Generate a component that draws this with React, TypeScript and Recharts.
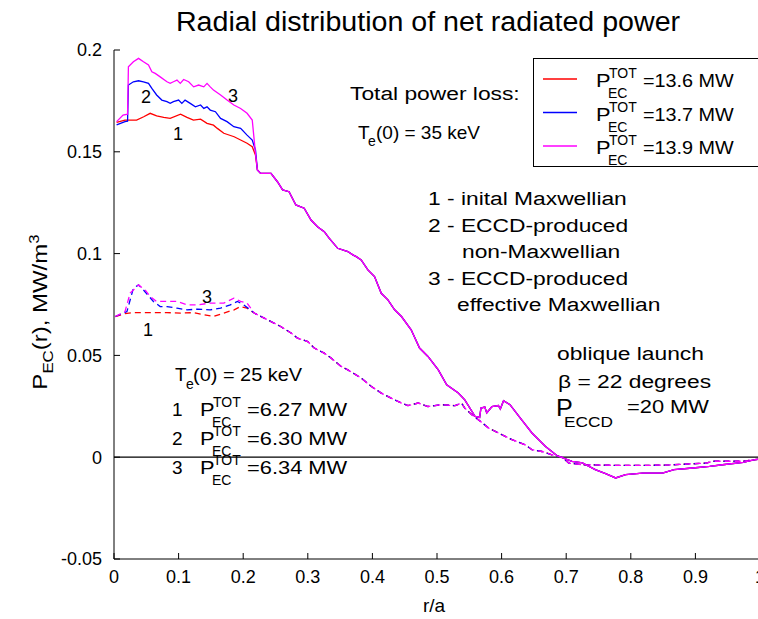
import { LineChart, Line, XAxis, YAxis, ReferenceLine, Legend } from 'recharts'

const RED = '#ff0000'
const BLUE = '#0000ff'
const MAGENTA = '#ff00ff'
const FONT = '"Liberation Sans", Arial, Helvetica, sans-serif'

const xTicks = [0, 0.1, 0.2, 0.3, 0.4, 0.5, 0.6, 0.7, 0.8, 0.9, 1]
const yTicks = [-0.05, 0, 0.05, 0.1, 0.15, 0.2]

// Te(0) = 35 keV, central part (r/a < 0.22) for each distribution
const hotMaxwX = [0.004, 0.017, 0.035, 0.046, 0.056, 0.066, 0.077, 0.087, 0.103, 0.113, 0.123, 0.134, 0.144, 0.154, 0.16, 0.17, 0.186, 0.196, 0.206, 0.214, 0.219]
const hotMaxwY = [0.1645, 0.1656, 0.1656, 0.1672, 0.1689, 0.1676, 0.1669, 0.1664, 0.1685, 0.1669, 0.1656, 0.166, 0.164, 0.1631, 0.1615, 0.1591, 0.1574, 0.1558, 0.1542, 0.1525, 0.1484]

const hotNonMaxwX = [0.004, 0.017, 0.021, 0.0223, 0.03, 0.038, 0.0456, 0.0534, 0.0586, 0.066, 0.074, 0.082, 0.087, 0.092, 0.1, 0.105, 0.11, 0.118, 0.126, 0.134, 0.139, 0.144, 0.149, 0.157, 0.165, 0.175, 0.1855, 0.196, 0.206, 0.214, 0.219]
const hotNonMaxwY = [0.1632, 0.1648, 0.165, 0.1828, 0.1844, 0.1849, 0.1844, 0.1836, 0.1811, 0.1779, 0.1754, 0.1746, 0.1738, 0.1746, 0.1754, 0.1738, 0.1754, 0.1738, 0.1721, 0.173, 0.1713, 0.1721, 0.1705, 0.1697, 0.1664, 0.1648, 0.1623, 0.1615, 0.1582, 0.1558, 0.1509]

const hotEffX = [0.004, 0.014, 0.021, 0.0223, 0.03, 0.038, 0.0456, 0.0534, 0.0586, 0.0638, 0.0715, 0.082, 0.087, 0.092, 0.0975, 0.1026, 0.1078, 0.1156, 0.1233, 0.131, 0.139, 0.144, 0.149, 0.154, 0.165, 0.175, 0.1855, 0.196, 0.206, 0.214, 0.219]
const hotEffY = [0.1648, 0.168, 0.1685, 0.1918, 0.1942, 0.1959, 0.1942, 0.1926, 0.1893, 0.1885, 0.1868, 0.1844, 0.1836, 0.1844, 0.1852, 0.1836, 0.1855, 0.1844, 0.1819, 0.1828, 0.1819, 0.1836, 0.1819, 0.1803, 0.1779, 0.1754, 0.173, 0.1713, 0.1689, 0.1656, 0.1493]

// Te(0) = 35 keV, outer part shared by all three
const hotTailX = [0.222, 0.227, 0.243, 0.253, 0.261, 0.271, 0.2815, 0.2944, 0.305, 0.315, 0.3255, 0.333, 0.3463, 0.362, 0.3697, 0.375, 0.3826, 0.393, 0.4033, 0.4137, 0.424, 0.4344, 0.445, 0.46, 0.473, 0.486, 0.502, 0.515, 0.533, 0.543, 0.559, 0.566, 0.568, 0.574, 0.577, 0.585, 0.595, 0.598, 0.603, 0.613, 0.629, 0.647, 0.668, 0.686, 0.709, 0.725, 0.745, 0.761, 0.7765, 0.792, 0.818, 0.849, 0.867, 0.896, 0.922, 0.942, 0.974, 0.992, 1.0]
const hotTailY = [0.1411, 0.1394, 0.1394, 0.1353, 0.1313, 0.1304, 0.1239, 0.1223, 0.1165, 0.1132, 0.1108, 0.1076, 0.1026, 0.101, 0.0994, 0.0985, 0.0969, 0.092, 0.0887, 0.0805, 0.0773, 0.0724, 0.0691, 0.0626, 0.0536, 0.0495, 0.0429, 0.0356, 0.0315, 0.0282, 0.02, 0.0195, 0.0241, 0.0246, 0.0217, 0.0249, 0.0254, 0.0237, 0.0277, 0.0258, 0.0192, 0.0119, 0.0053, 0.0007, -0.002, -0.0028, -0.0061, -0.0081, -0.0102, -0.0086, -0.0078, -0.0078, -0.0061, -0.0053, -0.0045, -0.0037, -0.0025, -0.0012, -0.001]

// Te(0) = 25 keV, central part
const coldMaxwX = [0.002, 0.017, 0.03, 0.056, 0.082, 0.103, 0.123, 0.139, 0.154, 0.17, 0.186, 0.196, 0.206, 0.217]
const coldMaxwY = [0.0691, 0.0705, 0.071, 0.071, 0.071, 0.0708, 0.071, 0.07, 0.0691, 0.0708, 0.0724, 0.074, 0.0732, 0.0708]

const coldNonMaxwX = [0.002, 0.02, 0.03, 0.038, 0.046, 0.061, 0.0715, 0.082, 0.0975, 0.113, 0.129, 0.149, 0.165, 0.18, 0.191, 0.201, 0.217]
const coldNonMaxwY = [0.0691, 0.0715, 0.083, 0.0846, 0.082, 0.0765, 0.074, 0.074, 0.0732, 0.0724, 0.0727, 0.0724, 0.0732, 0.0748, 0.0765, 0.0748, 0.0708]

const coldEffX = [0.002, 0.017, 0.025, 0.038, 0.048, 0.056, 0.066, 0.082, 0.0975, 0.113, 0.129, 0.149, 0.17, 0.1855, 0.196, 0.206, 0.217]
const coldEffY = [0.0691, 0.0715, 0.0806, 0.0846, 0.0822, 0.0789, 0.0765, 0.0765, 0.0765, 0.0748, 0.0748, 0.0757, 0.0757, 0.0781, 0.0765, 0.0757, 0.0708]

// Te(0) = 25 keV, outer part shared by all three
const coldTailX = [0.2375, 0.258, 0.274, 0.284, 0.3, 0.31, 0.3255, 0.336, 0.3515, 0.362, 0.3826, 0.398, 0.4137, 0.429, 0.445, 0.455, 0.471, 0.486, 0.507, 0.528, 0.538, 0.543, 0.554, 0.564, 0.58, 0.595, 0.616, 0.6366, 0.647, 0.6625, 0.678, 0.694, 0.704, 0.725, 0.7765, 0.828, 0.86, 0.917, 0.927, 0.974, 0.992, 1.0]
const coldTailY = [0.0675, 0.0642, 0.061, 0.0585, 0.0568, 0.0536, 0.0511, 0.0487, 0.0446, 0.0429, 0.0389, 0.0348, 0.0315, 0.029, 0.0266, 0.0253, 0.0266, 0.0249, 0.0258, 0.0253, 0.0266, 0.0241, 0.0209, 0.0184, 0.0143, 0.0119, 0.0086, 0.0061, 0.0037, 0.0028, 0.0012, 0.0, -0.0029, -0.0037, -0.004, -0.004, -0.0038, -0.0029, -0.002, -0.002, -0.0012, -0.001]

const hotTotals = ['13.6', '13.7', '13.9']
const coldTotals = ['6.27', '6.30', '6.34']

const series = (xs: number[], ys: number[], tx: number[], ty: number[]) =>
  [...xs, ...tx].map((r, i) => ({ r, p: i < xs.length ? ys[i] : ty[i - xs.length] }))

const hot = [
  { key: 'hot1', color: RED, data: series(hotMaxwX, hotMaxwY, hotTailX, hotTailY) },
  { key: 'hot2', color: BLUE, data: series(hotNonMaxwX, hotNonMaxwY, hotTailX, hotTailY) },
  { key: 'hot3', color: MAGENTA, data: series(hotEffX, hotEffY, hotTailX, hotTailY) },
]
const cold = [
  { key: 'cold1', color: RED, data: series(coldMaxwX, coldMaxwY, coldTailX, coldTailY) },
  { key: 'cold2', color: BLUE, data: series(coldNonMaxwX, coldNonMaxwY, coldTailX, coldTailY) },
  { key: 'cold3', color: MAGENTA, data: series(coldEffX, coldEffY, coldTailX, coldTailY) },
]

function Txt({ x, y, size = 19, sx = 1.2, anchor = 'start', children }: any) {
  return (
    <text transform={`translate(${x} ${y}) scale(${sx} 1)`} fontSize={size} textAnchor={anchor} fill="#000">
      {children}
    </text>
  )
}

// P with TOT above and EC below
function PTot({ x, y }: { x: number; y: number }) {
  return (
    <g>
      <Txt x={x} y={y} sx={1.15}>P</Txt>
      <Txt x={x + 13} y={y - 9} size={14} sx={1}>TOT</Txt>
      <Txt x={x + 12} y={y + 11} size={14} sx={1}>EC</Txt>
    </g>
  )
}

function LegendBox({ payload }: any) {
  const items = (payload || []).filter((p: any) => p.type !== 'none')
  return (
    <svg width={240} height={112} style={{ display: 'block', fontFamily: FONT }}>
      <rect x={0.5} y={0.5} width={260} height={108} fill="#fff" stroke="#000" />
      {items.map((p: any, i: number) => {
        const y = 21 + i * 33.5
        return (
          <g key={i}>
            <line x1={10} x2={44} y1={y} y2={y} stroke={p.color} strokeWidth={1.5} />
            <PTot x={63} y={y + 8} />
            <Txt x={110} y={y + 8} size={18} sx={1.1}>={p.value} MW</Txt>
          </g>
        )
      })}
    </svg>
  )
}

const noTick = () => <g />

export default function App() {
  return (
    <div style={{ position: 'fixed', left: 0, top: 0, width: 758, height: 619, overflow: 'hidden', background: '#fff', fontFamily: FONT }}>
      <LineChart width={800} height={619} margin={{ top: 50, right: 40, bottom: 30, left: 0 }}>
        <XAxis xAxisId="top" orientation="top" type="number" dataKey="r" domain={[0, 1]} ticks={xTicks}
          height={0} tickSize={-6} tick={noTick} stroke="#000" />
        <XAxis type="number" dataKey="r" domain={[0, 1]} ticks={xTicks} height={30} tickSize={-6} tickMargin={17}
          stroke="#000" tick={{ fill: '#000', fontSize: 18 }} />
        <YAxis type="number" domain={[-0.05, 0.2]} ticks={yTicks} width={114} tickSize={-6} tickMargin={18}
          stroke="#000" tick={{ fill: '#000', fontSize: 18 }} />
        <ReferenceLine y={0} stroke="#000" strokeWidth={1.2} />
        <Legend layout="horizontal" verticalAlign="middle" align="center" content={<LegendBox />}
          wrapperStyle={{ position: 'absolute', left: 533, top: 58, width: 240, height: 112 }} />
        {cold.map((s) => (
          <Line key={s.key} data={s.data} dataKey="p" stroke={s.color} strokeWidth={1.3} strokeDasharray="6 4"
            dot={false} activeDot={false} legendType="none" isAnimationActive={false} />
        ))}
        {hot.map((s, i) => (
          <Line key={s.key} data={s.data} dataKey="p" name={hotTotals[i]} stroke={s.color} strokeWidth={1.3}
            dot={false} activeDot={false} isAnimationActive={false} />
        ))}
      </LineChart>
      <svg width={758} height={619} style={{ position: 'absolute', left: 0, top: 0, pointerEvents: 'none', fontFamily: FONT }}>
        <Txt x={428} y={31} size={27} sx={1.06} anchor="middle">Radial distribution of net radiated power</Txt>
        <Txt x={434} y={612} size={19} sx={1} anchor="middle">r/a</Txt>
        <text transform="translate(47 312) rotate(-90) scale(1.2 1)" fontSize={20} textAnchor="middle" fill="#000">
          P<tspan dy={6} fontSize={14}>EC</tspan><tspan dy={-6}>(r), MW/m</tspan><tspan dy={-8} fontSize={14}>3</tspan>
        </text>

        <Txt x={350} y={100}>Total power loss:</Txt>
        <Txt x={358} y={139} sx={1}>T</Txt>
        <Txt x={368} y={146} size={14} sx={1}>e</Txt>
        <Txt x={376} y={139} sx={1}>(0) = 35 keV</Txt>

        <Txt x={428} y={205}>1 - inital Maxwellian</Txt>
        <Txt x={428} y={232}>2 - ECCD-produced</Txt>
        <Txt x={462} y={258}>non-Maxwellian</Txt>
        <Txt x={428} y={285}>3 - ECCD-produced</Txt>
        <Txt x={457} y={311}>effective Maxwellian</Txt>

        <Txt x={557} y={360}>oblique launch</Txt>
        <Txt x={558} y={388}>β = 22 degrees</Txt>
        <Txt x={556} y={416} size={24} sx={1.05}>P</Txt>
        <Txt x={564} y={427} size={15} sx={1.15}>ECCD</Txt>
        <Txt x={627} y={413} sx={1.15}>=20 MW</Txt>

        <Txt x={175} y={381} sx={1}>T</Txt>
        <Txt x={186} y={389} size={14} sx={1}>e</Txt>
        <Txt x={193} y={381} sx={1.05}>(0) = 25 keV</Txt>
        {coldTotals.map((v, i) => (
          <g key={v}>
            <Txt x={172} y={416 + i * 29} sx={1}>{i + 1}</Txt>
            <PTot x={200} y={416 + i * 29} />
            <Txt x={247} y={416 + i * 29} sx={1.15}>={v} MW</Txt>
          </g>
        ))}

        <Txt x={173} y={140} size={18} sx={1}>1</Txt>
        <Txt x={141} y={103} size={18} sx={1}>2</Txt>
        <Txt x={228} y={102} size={18} sx={1}>3</Txt>
        <Txt x={202} y={303} size={18} sx={1}>3</Txt>
        <Txt x={143} y={336} size={18} sx={1}>1</Txt>
      </svg>
    </div>
  )
}
